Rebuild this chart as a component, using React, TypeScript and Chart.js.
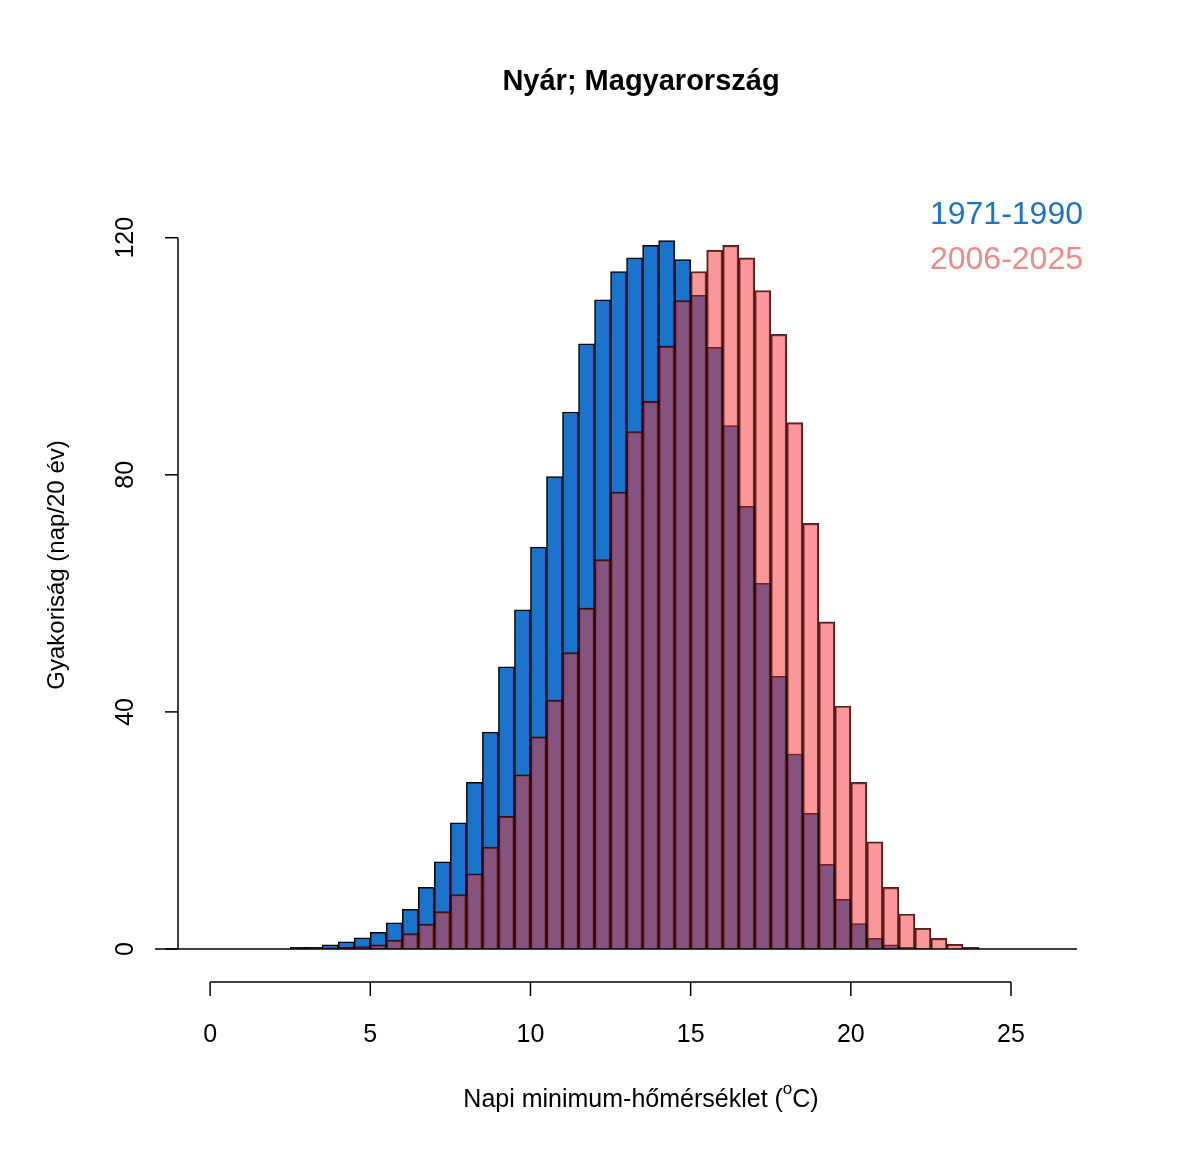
import React, { useEffect, useRef } from "react";
import { Chart, registerables } from "chart.js";
Chart.register(...registerables);

const binStarts = [2.5,3,3.5,4,4.5,5,5.5,6,6.5,7,7.5,8,8.5,9,9.5,10,10.5,11,11.5,12,12.5,13,13.5,14,14.5,15,15.5,16,16.5,17,17.5,18,18.5,19,19.5,20,20.5,21,21.5,22,22.5,23,23.5];
const early = [0.3,0.3,0.7,1.2,1.9,2.8,4.4,6.7,10.4,14.7,21.3,28.1,36.6,47.6,57.2,67.8,79.7,90.6,102.1,109.5,114.3,116.6,118.7,119.5,116.3,110.3,101.5,88.3,74.7,61.7,46,32.9,22.9,14.3,8.4,4.3,1.8,0.7,0.3,0.1,0,0,0];
const late = [0.1,0.2,0.2,0.3,0.4,0.7,1.5,2.6,4.2,6.3,9.2,12.7,17.2,22.4,29.4,35.8,42,50,57.5,65.7,77.1,87.3,92.4,101.7,109.4,114.3,117.9,118.7,116.6,111.1,103.7,88.8,71.8,55.2,41,28.1,18.1,10.4,5.9,3.5,1.8,0.8,0.3];
const xTicks = [0,5,10,15,20,25];
const yTicks = [0,40,80,120];
const seriesNames = ["1971-1990","2006-2025"];
const binWidth = 0.5;

const FONT = "Arial, 'Liberation Sans', sans-serif";

const rAxes = {
  id: "rAxes",
  afterDraw(chart: any) {
    const ctx = chart.ctx;
    const xs = chart.scales.x, ys = chart.scales.y;
    const ca = chart.chartArea;
    ctx.save();
    ctx.strokeStyle = "#000";
    ctx.fillStyle = "#000";
    ctx.lineWidth = 1.5;
    const y0 = ys.getPixelForValue(0);
    ctx.beginPath(); ctx.moveTo(ca.left, y0); ctx.lineTo(ca.right, y0); ctx.stroke();
    const ax = 982;
    ctx.beginPath();
    ctx.moveTo(xs.getPixelForValue(xTicks[0]), ax);
    ctx.lineTo(xs.getPixelForValue(xTicks[xTicks.length - 1]), ax);
    ctx.stroke();
    ctx.font = `25px ${FONT}`;
    ctx.textAlign = "center"; ctx.textBaseline = "middle";
    xTicks.forEach(t => {
      const px = xs.getPixelForValue(t);
      ctx.beginPath(); ctx.moveTo(px, ax); ctx.lineTo(px, ax + 14); ctx.stroke();
      ctx.fillText(String(t), px, 1035);
    });
    const axy = 178;
    ctx.beginPath();
    ctx.moveTo(axy, ys.getPixelForValue(yTicks[0]));
    ctx.lineTo(axy, ys.getPixelForValue(yTicks[yTicks.length - 1]));
    ctx.stroke();
    yTicks.forEach(t => {
      const py = ys.getPixelForValue(t);
      ctx.beginPath(); ctx.moveTo(axy, py); ctx.lineTo(axy - 13, py); ctx.stroke();
      ctx.save(); ctx.translate(126, py); ctx.rotate(-Math.PI / 2);
      ctx.fillText(String(t), 0, 0); ctx.restore();
    });
    ctx.save(); ctx.translate(57, 565); ctx.rotate(-Math.PI / 2);
    ctx.font = `24px ${FONT}`;
    ctx.fillText("Gyakoriság (nap/20 év)", 0, 0); ctx.restore();
    const a = "Napi minimum-hőmérséklet (", b = "C)";
    ctx.font = `25px ${FONT}`;
    const wa = ctx.measureText(a).width, wb = ctx.measureText(b).width;
    ctx.font = `17px ${FONT}`;
    const wo = ctx.measureText("o").width;
    const sx = 641 - (wa + wo + wb) / 2;
    ctx.textAlign = "left";
    ctx.font = `25px ${FONT}`;
    ctx.fillText(a, sx, 1100);
    ctx.font = `17px ${FONT}`;
    ctx.fillText("o", sx + wa, 1089);
    ctx.font = `25px ${FONT}`;
    ctx.fillText(b, sx + wa + wo, 1100);
    ctx.textAlign = "center";
    ctx.font = `bold 29px ${FONT}`;
    ctx.fillText("Nyár; Magyarország", 641, 82);
    ctx.textAlign = "right";
    ctx.font = `32px ${FONT}`;
    ctx.fillStyle = "#1874CD";
    ctx.fillText(seriesNames[0], 1083, 215);
    ctx.fillStyle = "#F08A8A";
    ctx.fillText(seriesNames[1], 1083, 260);
    ctx.restore();
  },
};

export default function App() {
  const ref = useRef<HTMLCanvasElement>(null);
  useEffect(() => {
    const chart = new Chart(ref.current!, {
      type: "bar",
      data: {
        datasets: [
          {
            label: seriesNames[1],
            data: binStarts.map((s, i) => ({ x: s + binWidth / 2, y: late[i] })),
            backgroundColor: "rgba(242,50,50,0.5)",
            borderColor: "rgba(40,0,0,0.85)",
            borderWidth: 1.5,
            barPercentage: 1, categoryPercentage: 1, grouped: false, order: 0,
          } as any,
          {
            label: seriesNames[0],
            data: binStarts.map((s, i) => ({ x: s + binWidth / 2, y: early[i] })),
            backgroundColor: "#1874CD",
            borderColor: "#000",
            borderWidth: 1.5,
            barPercentage: 1, categoryPercentage: 1, grouped: false, order: 1,
          } as any,
        ],
      },
      options: {
        responsive: false,
        animation: false,
        layout: { padding: { left: 155, right: 123, top: 214, bottom: 214 } },
        plugins: { legend: { display: false }, tooltip: { enabled: false } },
        scales: {
          x: { type: "linear", min: -1.72, max: 27.06, offset: false, display: false },
          y: { min: 0, max: 124, display: false },
        },
      },
      plugins: [rAxes],
    });
    return () => chart.destroy();
  }, []);
  return (
    <canvas ref={ref} width={1200} height={1163}
      style={{ position: "absolute", left: 0, top: 0, width: 1200, height: 1163 }} />
  );
}
